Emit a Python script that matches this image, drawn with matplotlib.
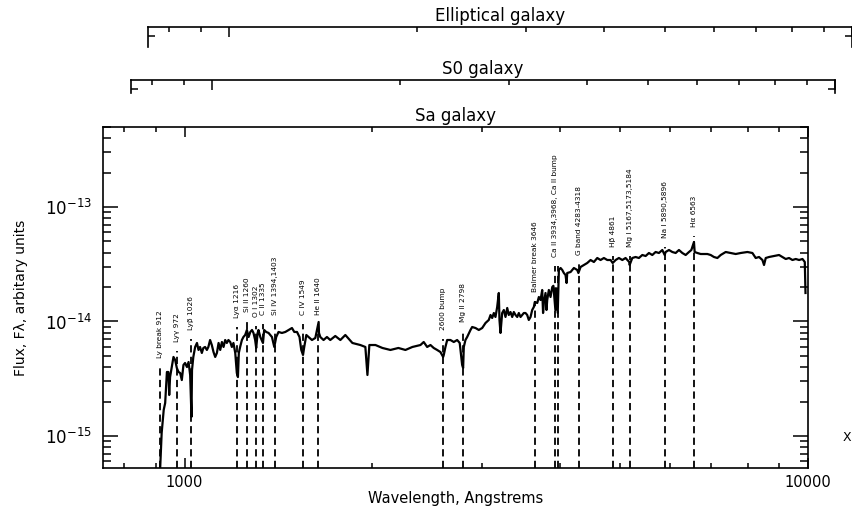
import math
import matplotlib
matplotlib.use('Agg')
import matplotlib.pyplot as plt
from matplotlib.ticker import FixedLocator, LogLocator, NullFormatter, FuncFormatter

# ---------------- data ----------------
FLUX_UNIT = 1e-14  # flux values below are in units of 1e-14

wavelength = [
    910, 919, 926, 931, 937, 942, 945, 948, 954, 960, 966, 972, 978, 984, 990, 996,
    1002, 1009, 1015, 1021, 1026, 1028, 1033, 1040, 1047, 1053, 1059, 1066, 1072, 1079,
    1086, 1092, 1099, 1106, 1113, 1120, 1127, 1134, 1141, 1148, 1155, 1162, 1169, 1176,
    1184, 1191, 1198, 1206, 1213, 1218, 1222, 1228, 1236, 1243, 1251, 1259, 1267, 1275,
    1283, 1290, 1298, 1303, 1310, 1314, 1323, 1336, 1342, 1352, 1364, 1381, 1393, 1403,
    1415, 1433, 1451, 1469, 1487, 1500, 1515, 1529, 1539, 1549, 1556, 1568, 1581, 1601,
    1621, 1641, 1643, 1651, 1671, 1692, 1713, 1745, 1778, 1811, 1859, 1914, 1950, 1965,
    1979, 2024, 2077, 2139, 2203, 2261, 2320, 2390, 2419, 2450, 2480, 2510, 2542, 2573,
    2599, 2605, 2621, 2638, 2670, 2703, 2737, 2763, 2788, 2798, 2805, 2822, 2840, 2875,
    2893, 2929, 2965, 3002, 3039, 3076, 3096, 3115, 3134, 3153, 3173, 3192, 3200, 3212,
    3232, 3252, 3272, 3293, 3312, 3333, 3354, 3374, 3395, 3417, 3437, 3459, 3480, 3501,
    3523, 3545, 3566, 3589, 3611, 3633, 3646, 3679, 3701, 3724, 3747, 3759, 3770, 3793,
    3807, 3817, 3840, 3864, 3889, 3905, 3934, 3945, 3968, 3985, 4010, 4035, 4059, 4084,
    4100, 4110, 4161, 4212, 4265, 4283, 4317, 4370, 4425, 4480, 4535, 4592, 4648, 4706,
    4765, 4824, 4861, 4914, 4974, 5037, 5098, 5167, 5175, 5226, 5290, 5355, 5423, 5490,
    5557, 5627, 5696, 5766, 5839, 5890, 5911, 5984, 6059, 6134, 6209, 6287, 6365, 6443,
    6500, 6563, 6580, 6646, 6728, 6810, 6896, 6981, 7066, 7156, 7244, 7379, 7517, 7657,
    7800, 7995, 8144, 8244, 8346, 8451, 8501, 8555, 8660, 8821, 8986, 9100, 9211, 9324,
    9442, 9558, 9676, 9798, 9882, 9908,
]

flux = [
    0.030, 0.106, 0.169, 0.194, 0.362, 0.362, 0.228, 0.327, 0.400, 0.490, 0.461, 0.392, 0.362, 0.355, 0.308, 0.417,
    0.434, 0.400, 0.443, 0.341, 0.147, 0.377, 0.490, 0.599, 0.649, 0.564, 0.599, 0.531, 0.587, 0.599,
    0.564, 0.599, 0.689, 0.623, 0.541, 0.490, 0.531, 0.649, 0.564, 0.662, 0.599, 0.689, 0.649, 0.689,
    0.662, 0.599, 0.649, 0.531, 0.355, 0.327, 0.531, 0.599, 0.689, 0.732, 0.762, 0.843, 0.732, 0.810,
    0.843, 0.794, 0.689, 0.587, 0.794, 0.843, 0.732, 0.649, 0.843, 0.810, 0.794, 0.732, 0.599, 0.732,
    0.810, 0.794, 0.810, 0.843, 0.877, 0.810, 0.810, 0.732, 0.564, 0.510, 0.599, 0.762, 0.732, 0.689,
    0.718, 0.990, 0.794, 0.732, 0.689, 0.732, 0.689, 0.747, 0.689, 0.762, 0.649, 0.623, 0.599, 0.341,
    0.623, 0.623, 0.587, 0.564, 0.587, 0.564, 0.599, 0.623, 0.662, 0.599, 0.623, 0.587, 0.564, 0.541,
    0.490, 0.510, 0.599, 0.689, 0.689, 0.662, 0.689, 0.649, 0.417, 0.392, 0.599, 0.689, 0.732, 0.843,
    0.895, 0.877, 0.843, 0.877, 0.970, 1.031, 1.140, 1.073, 1.186, 1.095, 1.339, 1.774, 1.031, 0.794,
    1.186, 1.260, 1.095, 1.312, 1.140, 1.210, 1.095, 1.210, 1.140, 1.095, 1.186, 1.095, 1.140, 1.186,
    1.186, 1.140, 1.031, 1.095, 1.260, 1.339, 1.481, 1.451, 1.637, 1.541, 1.884, 1.186, 1.451, 1.774,
    1.260, 1.541, 1.884, 1.637, 2.001, 2.050, 1.260, 1.950, 1.190, 2.818, 2.933, 2.818, 2.652, 2.548,
    2.169, 2.652, 2.706, 2.933, 2.818, 2.652, 2.992, 3.115, 3.243, 3.444, 3.309, 3.586, 3.444, 3.586,
    3.444, 3.444, 3.243, 3.444, 3.586, 3.444, 3.586, 3.309, 3.115, 3.586, 3.659, 3.586, 3.809, 3.733,
    3.966, 3.809, 4.046, 3.966, 4.212, 3.809, 4.046, 4.212, 4.046, 3.966, 4.212, 3.966, 3.809, 4.046,
    4.212, 4.947, 4.046, 3.966, 3.886, 3.886, 3.886, 3.809, 3.659, 3.586, 3.809, 4.046, 3.966, 3.886,
    3.966, 4.046, 3.966, 3.586, 3.659, 3.444, 3.115, 3.586, 3.659, 3.733, 3.809, 3.659, 3.515, 3.586,
    3.444, 3.515, 3.444, 3.515, 3.309, 1.774,
]

line_wavelengths = [912, 972, 1026, 1216, 1260, 1302, 1335, 1398, 1549, 1640,
                    2600, 2798, 3646, 3934, 3968, 4300, 4861, 5175, 5893, 6563]
line_tops = [0.400, 0.553, 0.703, 0.895, 1.010, 0.913, 0.951, 0.951, 0.951, 0.951,
             0.703, 0.826, 1.510, 3.050, 3.050, 3.150, 3.730, 3.730, 4.470, 5.580]
line_labels = ['Ly break 912', 'Lyγ 972', 'Lyβ 1026', 'Lyα 1216', 'Si II 1260',
               'O I 1302', 'C II 1335', 'Si IV 1394,1403', 'C IV 1549', 'He II 1640',
               '2600 bump', 'Mg II 2798', 'Balmer break 3646',
               'Ca II 3934,3968, Ca II bump', '', 'G band 4283-4318', 'Hβ 4861',
               'Mg I 5167,5173,5184', 'Na I 5890,5896', 'Hα 6563']

panel_titles = ['Elliptical galaxy', 'S0 galaxy', 'Sa galaxy']
x_ticks = [1000, 10000]
y_ticks = [1e-15, 1e-14, 1e-13]

# ---------------- figure ----------------
W, H = 853, 511
fig = plt.figure(figsize=(W / 100, H / 100), dpi=100)
fig.patch.set_facecolor('white')

XLIM = (740, 10000)
YLIM = (5.25e-16, 5.0e-13)
BIG = 12
LABEL_FONT = ['Liberation Sans Narrow', 'DejaVu Sans']


def box(l, t, r, b):
    return [l / W, 1 - b / H, (r - l) / W, (b - t) / H]


def bracket_axes(l, t, r, b, tick_frac):
    a = fig.add_axes(box(l, t, r, b))
    a.set_xscale('log')
    a.set_xlim(*XLIM)
    a.set_ylim(0, 1)
    a.patch.set_alpha(0)
    a.spines['bottom'].set_visible(False)
    for s in ('top', 'left', 'right'):
        a.spines[s].set_linewidth(1.2)
    a.xaxis.set_ticks_position('top')
    a.xaxis.set_major_locator(FixedLocator(x_ticks))
    a.xaxis.set_minor_locator(LogLocator(base=10, subs=range(2, 10)))
    a.xaxis.set_major_formatter(NullFormatter())
    a.xaxis.set_minor_formatter(NullFormatter())
    a.tick_params(axis='x', which='major', direction='in', length=7, width=1.1)
    a.tick_params(axis='x', which='minor', direction='in', length=3.5, width=1.1)
    a.yaxis.set_ticks_position('both')
    a.set_yticks([tick_frac])
    a.set_yticklabels([])
    a.tick_params(axis='y', which='major', direction='in', length=5, width=1.1)
    a.tick_params(axis='y', which='minor', length=0)
    return a


ax_e = bracket_axes(148, 27, 852, 47, 0.55)
ax_s = bracket_axes(131, 80, 835, 93, 0.3)

fig.text((148 + 852) / 2 / W, 1 - 16 / H, panel_titles[0], ha='center', va='center', fontsize=BIG)
fig.text((131 + 835) / 2 / W, 1 - 69 / H, panel_titles[1], ha='center', va='center', fontsize=BIG)

# main axes
ax = fig.add_axes(box(103, 127, 808, 468))
ax.set_xscale('log')
ax.set_yscale('log')
ax.set_xlim(*XLIM)
ax.set_ylim(*YLIM)
for s in ax.spines.values():
    s.set_linewidth(1.2)

ax.plot(wavelength, [f * FLUX_UNIT for f in flux], color='black', lw=1.6)

ax.vlines(line_wavelengths, YLIM[0], [t * FLUX_UNIT for t in line_tops],
          colors='black', linestyles=(0, (4, 2.4)), lw=1.3)
for wl, top, lab in zip(line_wavelengths, line_tops, line_labels):
    if lab:
        ax.annotate(lab, xy=(wl, top * FLUX_UNIT), xytext=(0, 9), textcoords='offset pixels',
                    rotation=90, ha='center', va='bottom', fontsize=5.3,
                    family=LABEL_FONT)

ax.xaxis.set_major_locator(FixedLocator(x_ticks))
ax.xaxis.set_major_formatter(FuncFormatter(lambda v, p: f'{int(round(v))}'))
ax.xaxis.set_minor_locator(LogLocator(base=10, subs=range(2, 10)))
ax.xaxis.set_minor_formatter(NullFormatter())
ax.yaxis.set_major_locator(FixedLocator(y_ticks))
ax.yaxis.set_major_formatter(FuncFormatter(
    lambda v, p: r'$10^{%d}$' % int(round(math.log10(v)))))
ax.yaxis.set_minor_locator(LogLocator(base=10, subs=range(2, 10)))
ax.yaxis.set_minor_formatter(NullFormatter())

ax.tick_params(which='both', direction='in', top=True, right=True, width=1.1)
ax.tick_params(axis='x', which='major', length=7, pad=5, labelsize=10.5)
ax.tick_params(axis='x', which='minor', length=3.5)
ax.tick_params(axis='y', which='major', length=11, pad=8, labelsize=12)
ax.tick_params(axis='y', which='minor', length=5.5)

ax.set_title(panel_titles[2], fontsize=BIG, pad=4)
ax.set_xlabel('Wavelength, Angstrems', fontsize=10.5, labelpad=1)
ax.set_ylabel('Flux, Fλ, arbitary units', fontsize=10, labelpad=12)

fig.text(847 / W, 1 - 437 / H, 'X', ha='center', va='center', fontsize=9)

fig.savefig('out.png', dpi=100, facecolor='white')
